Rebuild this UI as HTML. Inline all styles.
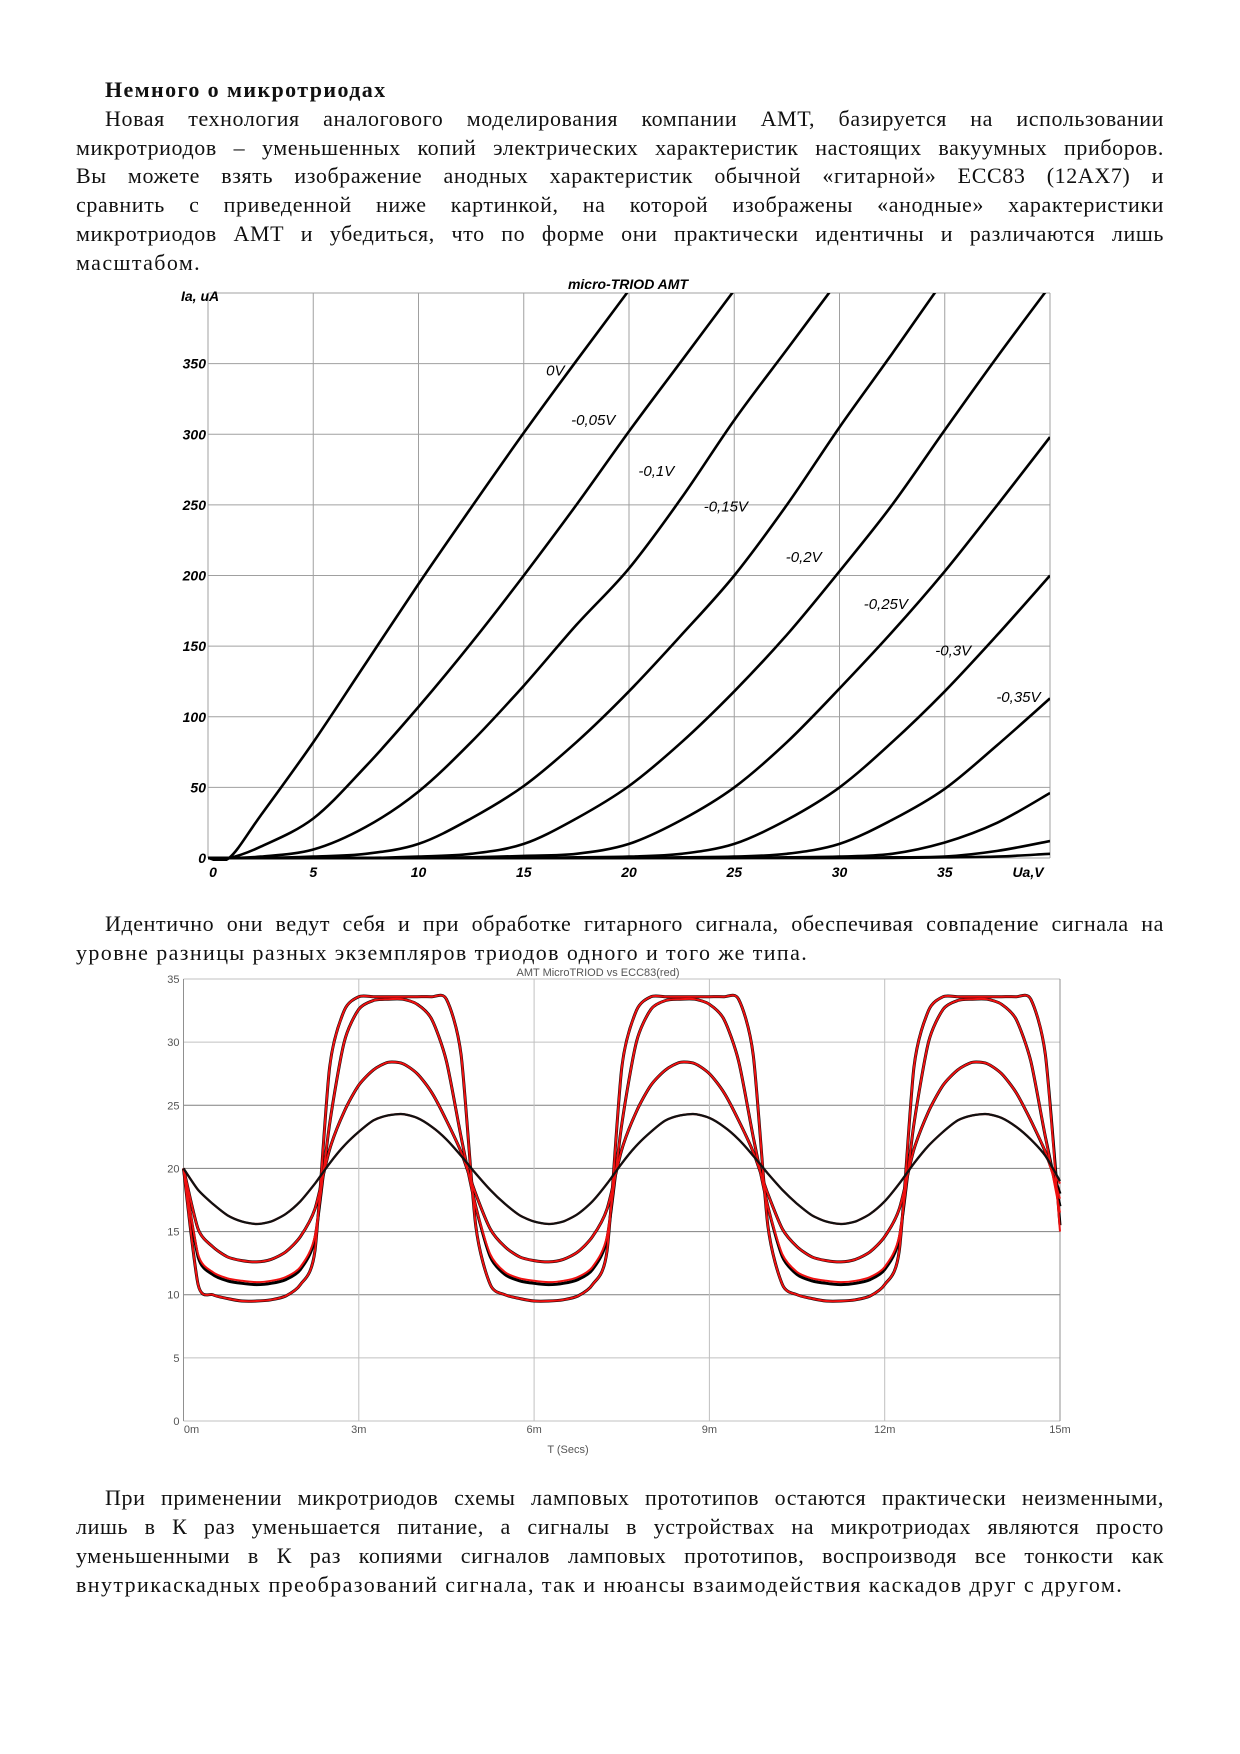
<!DOCTYPE html>
<html><head><meta charset="utf-8">
<style>
html,body{margin:0;padding:0;background:#fff;}
body{width:1240px;height:1754px;position:relative;overflow:hidden;font-family:"Liberation Serif","Noto Serif CJK SC",serif;}
.ln{position:absolute;height:29px;line-height:29px;font-size:22px;letter-spacing:1.4px;color:#111;white-space:nowrap;}
.j{text-align:justify;text-align-last:justify;white-space:normal;overflow:hidden;letter-spacing:0.6px;}
svg{position:absolute;left:0;top:0;}
</style></head>
<body>
<div class="ln" style="left:105px;top:75px;font-weight:bold;">Немного о микротриодах</div>
<div class="ln j" style="left:105px;width:1059px;top:104px;">Новая технология аналогового моделирования компании АМТ, базируется на использовании</div>
<div class="ln j" style="left:76px;width:1088px;top:133px;">микротриодов – уменьшенных копий электрических характеристик настоящих вакуумных приборов.</div>
<div class="ln j" style="left:76px;width:1088px;top:161px;">Вы можете взять изображение анодных характеристик обычной «гитарной» ЕСС83 (12AX7) и</div>
<div class="ln j" style="left:76px;width:1088px;top:190px;">сравнить с приведенной ниже картинкой, на которой изображены «анодные» характеристики</div>
<div class="ln j" style="left:76px;width:1088px;top:219px;">микротриодов АМТ и убедиться, что по форме они практически идентичны и различаются лишь</div>
<div class="ln" style="left:76px;top:248px;">масштабом.</div>

<div class="ln j" style="left:105px;width:1059px;top:909px;">Идентично они ведут себя и при обработке гитарного сигнала, обеспечивая совпадение сигнала на</div>
<div class="ln" style="left:76px;top:938px;">уровне разницы разных экземпляров триодов одного и того же типа.</div>

<div class="ln j" style="left:105px;width:1059px;top:1483px;">При применении микротриодов схемы ламповых прототипов остаются практически неизменными,</div>
<div class="ln j" style="left:76px;width:1088px;top:1512px;">лишь в К раз уменьшается питание, а сигналы в устройствах на микротриодах являются просто</div>
<div class="ln j" style="left:76px;width:1088px;top:1541px;">уменьшенными в К раз копиями сигналов ламповых прототипов, воспроизводя все тонкости как</div>
<div class="ln" style="left:76px;top:1570px;">внутрикаскадных преобразований сигнала, так и нюансы взаимодействия каскадов друг с другом.</div>

<svg id="c1" width="1240" height="1754"></svg>
<svg id="c2" width="1240" height="1754"></svg>

<script>
// ---------- Chart 1 data ----------
const uaValues = [0,1,2.5,5,7.5,10,12.5,15,17.5,20,22.5,25,27.5,30,32.5,35,37.5,40];
const gridVoltLabels = ["0V","-0,05V","-0,1V","-0,15V","-0,2V","-0,25V","-0,3V","-0,35V"];
const curve0 =   [0,0,30,82,138,194,248,301,352,402,452,502,552,602,652,702,752,802];
const curve005 = [0,0,8,28,65,107,152,200,250,302,352,402,452,502,552,602,652,702];
const curve01 =  [0,0,1,6,22,47,82,122,165,205,255,310,360,410,460,510,560,610];
const curve015 = [0,0,0,1,3,10,28,51,82,118,158,200,250,305,357,410,460,510];
const curve02 =  [0,0,0,0,0,1,3,10,28,51,82,118,158,203,250,303,355,405];
const curve025 = [0,0,0,0,0,0,0.5,1.5,3,10,27,50,82,120,160,203,250,298];
const curve03 =  [0,0,0,0,0,0,0,0,0.5,1,3,10,27,50,82,118,158,200];
const curve035 = [0,0,0,0,0,0,0,0,0,0,0.5,1,3,10,27,49,80,113];
const curve04 =  [0,0,0,0,0,0,0,0,0,0,0,0,0.5,1,3,11,25,46];
const curve045 = [0,0,0,0,0,0,0,0,0,0,0,0,0,0,0.5,1,5,12];
const curve05 =  [0,0,0,0,0,0,0,0,0,0,0,0,0,0,0,0.5,1,3];
const yTicks1 = [0,50,100,150,200,250,300,350];
const xTicks1 = [0,5,10,15,20,25,30,35];
const labelAnchors = [[16.5,345],[18.3,310],[21.3,274],[24.6,249],[28.3,213],[32.2,180],[35.4,147],[38.5,114]];

// ---------- Chart 2 data ----------
const tValues = [];
for (let i=0;i<=60;i++) tValues.push(i*0.25);
const blackA=[20.0,18.3,17.2,16.3,15.8,15.6,15.8,16.4,17.4,18.8,20.4,21.8,22.9,23.8,24.2,24.3,24.0,23.3,22.3,21.0,19.6,18.3,17.2,16.3,15.8,15.6,15.8,16.4,17.4,18.8,20.4,21.8,22.9,23.8,24.2,24.3,24.0,23.3,22.3,21.0,19.6,18.3,17.2,16.3,15.8,15.6,15.8,16.4,17.4,18.8,20.4,21.8,22.9,23.8,24.2,24.3,24.0,23.3,22.3,21.0,19.0];
const blackB=[20.0,15.2,13.8,13.0,12.7,12.6,12.8,13.4,14.6,16.8,21.5,24.5,26.6,27.8,28.4,28.3,27.5,26.0,23.8,21.3,18.0,15.2,13.8,13.0,12.7,12.6,12.8,13.4,14.6,16.8,21.5,24.5,26.6,27.8,28.4,28.3,27.5,26.0,23.8,21.3,18.0,15.2,13.8,13.0,12.7,12.6,12.8,13.4,14.6,16.8,21.5,24.5,26.6,27.8,28.4,28.3,27.5,26.0,23.8,21.3,18.0];
const blackC=[20.0,13.0,11.6,11.1,10.9,10.8,10.9,11.2,12.0,14.5,23.5,30.0,32.6,33.3,33.4,33.4,33.0,31.8,28.5,22.5,17.0,13.0,11.6,11.1,10.9,10.8,10.9,11.2,12.0,14.5,23.5,30.0,32.6,33.3,33.4,33.4,33.0,31.8,28.5,22.5,17.0,13.0,11.6,11.1,10.9,10.8,10.9,11.2,12.0,14.5,23.5,30.0,32.6,33.3,33.4,33.4,33.0,31.8,28.5,22.5,17.0];
const blackD=[20.0,10.8,10.0,9.7,9.5,9.5,9.6,9.9,10.8,13.5,28.0,32.5,33.6,33.6,33.6,33.6,33.6,33.6,33.4,29.0,15.5,10.8,10.0,9.7,9.5,9.5,9.6,9.9,10.8,13.5,28.0,32.5,33.6,33.6,33.6,33.6,33.6,33.6,33.4,29.0,15.5,10.8,10.0,9.7,9.5,9.5,9.6,9.9,10.8,13.5,28.0,32.5,33.6,33.6,33.6,33.6,33.6,33.6,33.4,29.0,15.5];
const redA=[20.0,18.3,17.2,16.3,15.8,15.6,15.8,16.4,17.4,18.8,20.4,21.8,22.9,23.8,24.2,24.3,24.0,23.3,22.3,21.0,19.6,18.3,17.2,16.3,15.8,15.6,15.8,16.4,17.4,18.8,20.4,21.8,22.9,23.8,24.2,24.3,24.0,23.3,22.3,21.0,19.6,18.3,17.2,16.3,15.8,15.6,15.8,16.4,17.4,18.8,20.4,21.8,22.9,23.8,24.2,24.3,24.0,23.3,22.3,21.0,18.8];
const redB=[20.0,15.2,13.8,13.0,12.7,12.6,12.8,13.4,14.6,16.8,21.5,24.5,26.6,27.8,28.4,28.3,27.5,26.0,23.8,21.3,18.0,15.2,13.8,13.0,12.7,12.6,12.8,13.4,14.6,16.8,21.5,24.5,26.6,27.8,28.4,28.3,27.5,26.0,23.8,21.3,18.0,15.2,13.8,13.0,12.7,12.6,12.8,13.4,14.6,16.8,21.5,24.5,26.6,27.8,28.4,28.3,27.5,26.0,23.8,21.3,17.6];
const redC=[20.0,13.2,11.8,11.3,11.1,11.0,11.1,11.4,12.2,14.7,23.5,30.0,32.6,33.3,33.4,33.4,33.0,31.8,28.5,22.5,17.0,13.2,11.8,11.3,11.1,11.0,11.1,11.4,12.2,14.7,23.5,30.0,32.6,33.3,33.4,33.4,33.0,31.8,28.5,22.5,17.0,13.2,11.8,11.3,11.1,11.0,11.1,11.4,12.2,14.7,23.5,30.0,32.6,33.3,33.4,33.4,33.0,31.8,28.5,22.5,16.5];
const redD=[20.0,10.8,10.0,9.7,9.5,9.5,9.6,9.9,10.8,13.5,28.0,32.5,33.6,33.6,33.6,33.6,33.6,33.6,33.4,29.0,15.5,10.8,10.0,9.7,9.5,9.5,9.6,9.9,10.8,13.5,28.0,32.5,33.6,33.6,33.6,33.6,33.6,33.6,33.4,29.0,15.5,10.8,10.0,9.7,9.5,9.5,9.6,9.9,10.8,13.5,28.0,32.5,33.6,33.6,33.6,33.6,33.6,33.6,33.4,29.0,15.0];
const yTicks2 = [0,5,10,15,20,25,30,35];
const xTicks2 = [0,3,6,9,12,15];
const xTickLabels2 = ["0m","3m","6m","9m","12m","15m"];

const NS="http://www.w3.org/2000/svg";
function mk(parent, tag, attrs, text){
  const e=document.createElementNS(NS,tag);
  for(const k in attrs) e.setAttribute(k,attrs[k]);
  if(text!==undefined) e.textContent=text;
  parent.appendChild(e); return e;
}
function smoothPath(pts, k){
  k = k || 6;
  let d="M"+pts[0][0].toFixed(1)+","+pts[0][1].toFixed(1);
  for(let i=0;i<pts.length-1;i++){
    const p0=pts[Math.max(0,i-1)],p1=pts[i],p2=pts[i+1],p3=pts[Math.min(pts.length-1,i+2)];
    const c1=[p1[0]+(p2[0]-p0[0])/k,p1[1]+(p2[1]-p0[1])/k];
    const c2=[p2[0]-(p3[0]-p1[0])/k,p2[1]-(p3[1]-p1[1])/k];
    d+=" C"+c1[0].toFixed(1)+","+c1[1].toFixed(1)+" "+c2[0].toFixed(1)+","+c2[1].toFixed(1)+" "+p2[0].toFixed(1)+","+p2[1].toFixed(1);
  }
  return d;
}

// ---------- Chart 1 ----------
(function(){
  const svg=document.getElementById('c1');
  const X0=208,X1=1050,Y0=858,Y1=293;
  const xs=u=>X0+u*(X1-X0)/40;
  const ys=v=>Y0-v*(Y0-Y1)/400;
  const g=mk(svg,'g',{});
  
  
  for(let u=0;u<=40;u+=5){
    const l=mk(g,'line',{x1:xs(u),x2:xs(u),y1:Y1,y2:Y0,stroke:'#a0a0a0','stroke-width':1});
    
    
  }
  for(let v=0;v<=400;v+=50){
    const l=mk(g,'line',{x1:X0,x2:X1,y1:ys(v),y2:ys(v),stroke:'#a0a0a0','stroke-width':1});
    
    
  }
  const fs='font-family:"Liberation Sans",sans-serif;font-style:italic;font-weight:bold;font-size:14px;';
  yTicks1.forEach(v=>{
    const t=mk(svg,'text',{x:X0-2,y:ys(v)+5,'text-anchor':'end',style:fs,fill:'#000'},String(v));
    
    
  });
  xTicks1.forEach(u=>{
    const t=mk(svg,'text',{x:xs(u)+(u===0?5:0),y:Y0+19,'text-anchor':'middle',style:fs,fill:'#000'},String(u));
    
    
  });
  let t=mk(svg,'text',{x:1028,y:Y0+19,'text-anchor':'middle',style:fs,fill:'#000'},"Ua,V");
  
  
  t=mk(svg,'text',{x:181,y:Y1+8,style:fs,fill:'#000'},"Ia, uA");
  
  
  t=mk(svg,'text',{x:628,y:289,'text-anchor':'middle',style:fs,fill:'#000'},"micro-TRIOD AMT");
  
  
  const defs=mk(svg,'defs',{});
  const cp=mk(defs,'clipPath',{id:'clip1'});
  mk(cp,'rect',{x:X0-2,y:Y1,width:X1-X0+2,height:Y0-Y1+3});
  const curves=[curve0,curve005,curve01,curve015,curve02,curve025,curve03,curve035,curve04,curve045,curve05];
  curves.forEach((c,i)=>{
    const pts=uaValues.map((u,k)=>[xs(u),ys(c[k])]);
    const p=mk(svg,'path',{d:smoothPath(pts),fill:'none',stroke:'#000','stroke-width':2.6,'clip-path':'url(#clip1)','stroke-linejoin':'round'});
    
    
  });
  gridVoltLabels.forEach((lab,i)=>{
    const a=labelAnchors[i];
    const tt=mk(svg,'text',{x:xs(a[0]),y:ys(a[1])+5,'text-anchor':'middle',style:'font-family:"Liberation Sans",sans-serif;font-style:italic;font-size:15px;',fill:'#000'},lab);
    
    
  });
})();

// ---------- Chart 2 ----------
(function(){
  const svg=document.getElementById('c2');
  const X0=183.5,X1=1060,Y0=1421,Y1=979;
  const xs=t=>X0+t*(X1-X0)/15;
  const ys=v=>Y0-v*(Y0-Y1)/35;
  yTicks2.forEach(v=>{
    const dark=(v>=10&&v<=25);
    const l=mk(svg,'line',{x1:X0,x2:X1,y1:ys(v),y2:ys(v),stroke:dark?'#808080':'#c0c0c0','stroke-width':1});
    
    
    const t=mk(svg,'text',{x:X0-4,y:ys(v)+4,'text-anchor':'end',style:'font-family:"Liberation Sans",sans-serif;font-size:11px;',fill:'#555'},String(v));
    
    
  });
  xTicks2.forEach((tv,i)=>{
    const l=mk(svg,'line',{x1:xs(tv),x2:xs(tv),y1:Y1,y2:Y0,stroke:(i===0||i===5)?'#909090':'#c0c0c0','stroke-width':1});
    
    
    const t=mk(svg,'text',{x:xs(tv)+(i===0?8:0),y:Y0+12,'text-anchor':'middle',style:'font-family:"Liberation Sans",sans-serif;font-size:11px;',fill:'#555'},xTickLabels2[i]);
    
    
  });
  let t=mk(svg,'text',{x:568,y:1453,'text-anchor':'middle',style:'font-family:"Liberation Sans",sans-serif;font-size:11px;',fill:'#555'},"T (Secs)");
  
  
  t=mk(svg,'text',{x:598,y:976,'text-anchor':'middle',style:'font-family:"Liberation Sans",sans-serif;font-size:11px;',fill:'#555'},"AMT MicroTRIOD vs ECC83(red)");
  
  
  function draw(arr,color,w,name){
    const pts=tValues.map((tv,k)=>[xs(tv),ys(arr[k])]);
    const p=mk(svg,'path',{d:smoothPath(pts,8),fill:'none',stroke:color,'stroke-width':w,'stroke-linejoin':'round'});
    
    
  }
  draw(blackB,'#000',3,'micro-triod-b');
  draw(blackC,'#000',3,'micro-triod-c');
  draw(blackD,'#000',3,'micro-triod-d');
  draw(redA,'#ee1111',2.2,'ecc83-a');
  draw(redB,'#ee1111',2,'ecc83-b');
  draw(redC,'#ee1111',2,'ecc83-c');
  draw(redD,'#ee1111',2,'ecc83-d');
  draw(blackA,'#111',2.3,'micro-triod-a');
})();
</script>
</body></html>
